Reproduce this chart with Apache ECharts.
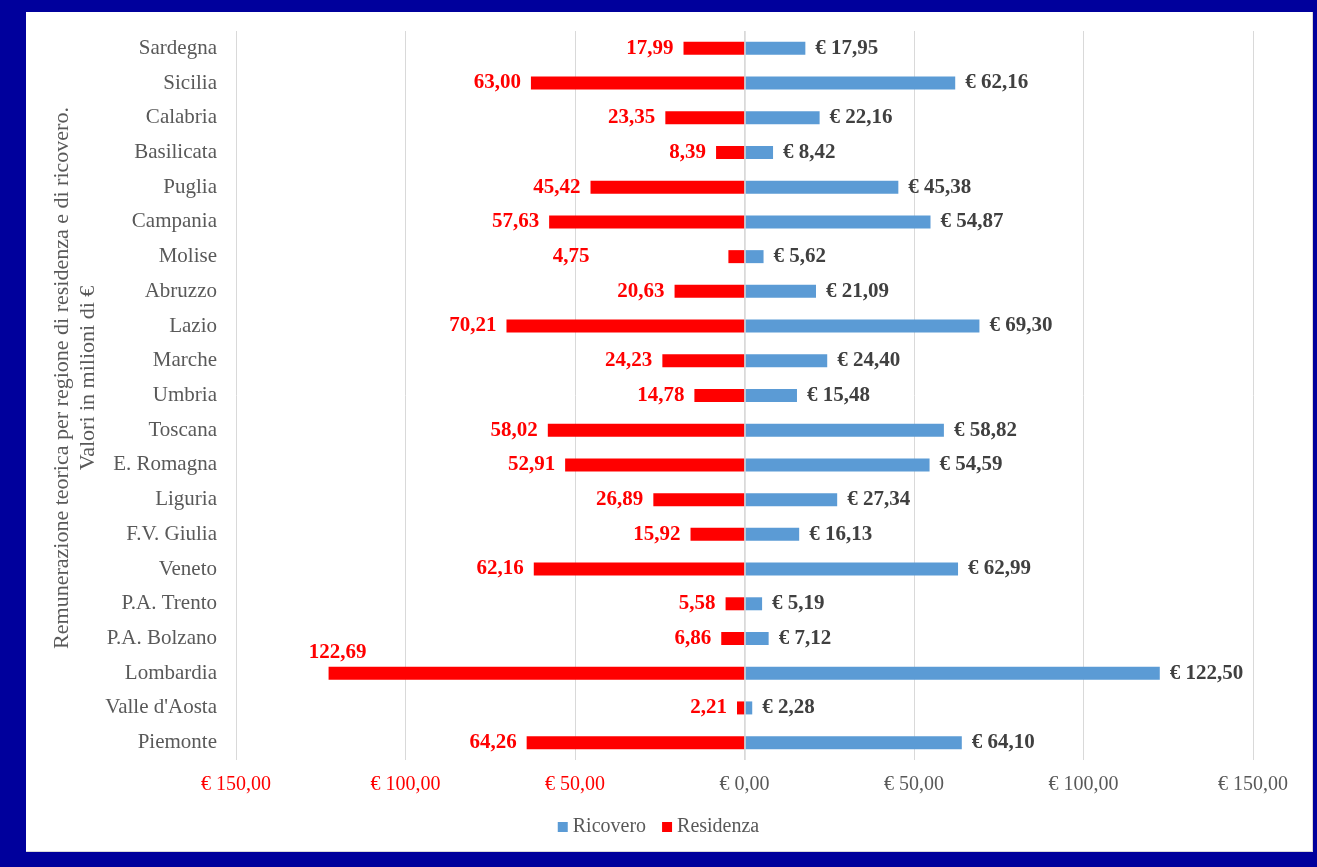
<!DOCTYPE html>
<html>
<head>
<meta charset="utf-8">
<script src="https://cdn.jsdelivr.net/npm/echarts@6/dist/echarts.min.js"></script>
<style>
html,body{margin:0;padding:0;background:#00009C;}
#frame{position:absolute;left:26px;top:12px;width:1286px;height:839px;background:#fff;border-right:1px solid #d9d9d9;border-bottom:1px solid #d9d9d9;}
#chart{position:absolute;left:0;top:0;width:1317px;height:867px;}
</style>
</head>
<body>
<div id="frame"></div>
<div id="chart"></div>
<script>
const categories = ["Sardegna","Sicilia","Calabria","Basilicata","Puglia","Campania","Molise","Abruzzo","Lazio","Marche","Umbria","Toscana","E. Romagna","Liguria","F.V. Giulia","Veneto","P.A. Trento","P.A. Bolzano","Lombardia","Valle d'Aosta","Piemonte"];
const ricovero = [17.95,62.16,22.16,8.42,45.38,54.87,5.62,21.09,69.30,24.40,15.48,58.82,54.59,27.34,16.13,62.99,5.19,7.12,122.50,2.28,64.10];
const residenza = [17.99,63.00,23.35,8.39,45.42,57.63,4.75,20.63,70.21,24.23,14.78,58.02,52.91,26.89,15.92,62.16,5.58,6.86,122.69,2.21,64.26];
const seriesNames = ["Ricovero","Residenza"];
const yAxisTitle = "Remunerazione teorica per regione di residenza e di ricovero.\nValori in milioni di €";

const fmt = v => Math.abs(v).toFixed(2).replace('.', ',');
const FONT = '"Liberation Serif","Times New Roman",serif';

const resData = residenza.map((v, i) => {
  const item = { value: -v };
  if (categories[i] === 'Lombardia') {
    item.label = { position: 'left', offset: [48, -21] };
  } else if (categories[i] === 'Molise') {
    item.label = { position: 'left', offset: [-129, 0] };
  }
  return item;
});

const chart = echarts.init(document.getElementById('chart'), null, {renderer: 'canvas'});
chart.setOption({
  backgroundColor: 'transparent',
  animation: false,
  grid: { left: 236, right: 64, top: 31, bottom: 107, containLabel: false },
  graphic: [{
    type: 'text', x: 75, y: 378, rotation: Math.PI / 2, silent: true,
    style: {
      text: yAxisTitle, x: 0, y: 0, align: 'center', verticalAlign: 'middle',
      fontFamily: FONT, fontSize: 22, lineHeight: 26, fill: '#595959'
    }
  }],
  legend: {
    top: 812, left: 'center',
    data: seriesNames,
    icon: 'rect', itemWidth: 10, itemHeight: 10, itemGap: 16,
    textStyle: { fontFamily: FONT, fontSize: 20, color: '#595959' }
  },
  xAxis: {
    type: 'value', min: -150, max: 150, interval: 50,
    axisLine: { show: false }, axisTick: { show: false },
    splitLine: { show: true, lineStyle: { color: '#d9d9d9', width: 1 } },
    axisLabel: {
      margin: 15,
      formatter: v => (v < 0 ? '{r|€ ' + fmt(v) + '}' : '{g|€ ' + fmt(v) + '}'),
      rich: {
        r: { color: '#FF0000', fontFamily: FONT, fontSize: 20 },
        g: { color: '#595959', fontFamily: FONT, fontSize: 20 }
      }
    }
  },
  yAxis: {
    type: 'category', data: categories, inverse: true,
    axisLine: { show: false }, axisTick: { show: false },
    axisLabel: { margin: 19, fontFamily: FONT, fontSize: 21, color: '#595959' }
  },
  series: [
    {
      name: seriesNames[0], type: 'bar', data: ricovero, barWidth: 13, barGap: '-100%',
      itemStyle: { color: '#5B9BD5' },
      label: { show: true, position: 'right', distance: 10, fontFamily: FONT, fontSize: 21, fontWeight: 'bold', color: '#404040',
        formatter: p => '€ ' + fmt(p.value) }
    },
    {
      name: seriesNames[1], type: 'bar', data: resData, barWidth: 13,
      itemStyle: { color: '#FF0000' },
      label: { show: true, position: 'left', distance: 10, fontFamily: FONT, fontSize: 21, fontWeight: 'bold', color: '#FF0000',
        formatter: p => fmt(p.value) },
      markLine: {
        silent: true, symbol: 'none', label: { show: false },
        lineStyle: { color: '#d9d9d9', width: 1.5, type: 'solid' },
        data: [{ xAxis: 0 }]
      }
    }
  ]
});
</script>
</body>
</html>
